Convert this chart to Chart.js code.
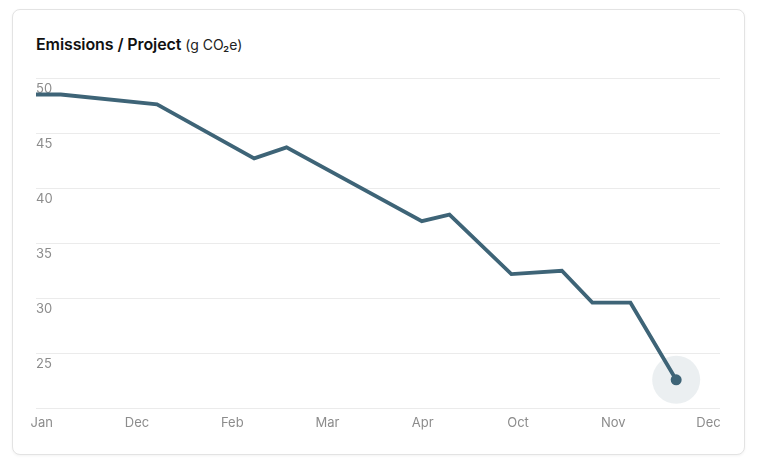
<!DOCTYPE html>
<html>
<head>
<meta charset="utf-8">
<script src="https://cdn.jsdelivr.net/npm/chart.js@4"></script>
<style>
  html, body { margin: 0; padding: 0; background: #fff; }
  body { width: 757px; height: 472px; position: relative; overflow: hidden; font-family: Inter, "Noto Sans", sans-serif; }
  .card {
    position: absolute; left: 12px; top: 9px; width: 731px; height: 444px;
    border: 1px solid #e3e3e3; border-radius: 8px; background: #fff;
    box-shadow: 0 1px 3px rgba(0,0,0,0.05);
  }
  .title {
    position: absolute; left: 36px; top: 34px; font-size: 16px; font-weight: 600; color: #111;
    letter-spacing: -0.1px; line-height: 20px;
  }
  .title span { font-size: 14px; font-weight: 400; color: #222; letter-spacing: 0; }
  .wrap { position: absolute; left: 0; top: 0; width: 757px; height: 472px; }
</style>
</head>
<body>
<div class="card"></div>
<div class="title">Emissions / Project <span>(g CO₂e)</span></div>
<div class="wrap"><canvas id="chart"></canvas></div>
<script>
// x positions are in "tick units": tick i sits at x = i
const TICK_LABELS = ['Jan', 'Dec', 'Feb', 'Mar', 'Apr', 'Oct', 'Nov', 'Dec'];
const X_VALUES = [-0.06, 0.20, 1.21, 2.23, 2.57, 3.99, 4.28, 4.93, 5.46, 5.78, 6.18, 6.66];
const EMISSIONS = [48.5, 48.5, 47.6, 42.7, 43.7, 37.0, 37.6, 32.2, 32.5, 29.6, 29.6, 22.6];
const Y_TICKS = [20, 25, 30, 35, 40, 45, 50];

const LINE_COLOR = '#3e6477';

const points = X_VALUES.map((x, i) => ({ x: x, y: EMISSIONS[i] }));
const last = points[points.length - 1];

new Chart(document.getElementById('chart'), {
  type: 'line',
  data: {
    datasets: [{
      data: points,
      borderColor: LINE_COLOR,
      borderWidth: 3.8,
      tension: 0,
      pointRadius: points.map((p, i) => i === points.length - 1 ? 5.5 : 0),
      pointBackgroundColor: LINE_COLOR,
      pointBorderWidth: 0,
      clip: false
    }, {
      data: [last],
      showLine: false,
      pointRadius: 24,
      pointBackgroundColor: 'rgba(62,100,119,0.10)',
      pointBorderWidth: 0,
      clip: false
    }]
  },
  options: {
    responsive: true,
    maintainAspectRatio: false,
    animation: false,
    layout: { padding: { left: 36, right: 37, top: 78, bottom: 34 } },
    plugins: { legend: { display: false }, tooltip: { enabled: false } },
    scales: {
      x: {
        type: 'linear',
        min: -0.06,
        max: 7.12,
        afterBuildTicks: (axis) => { axis.ticks = TICK_LABELS.map((l, i) => ({ value: i })); },
        grid: { display: false, drawTicks: false },
        border: { display: false },
        ticks: {
          autoSkip: false,
          maxRotation: 0,
          padding: 7,
          color: '#8c8c8c',
          font: { family: 'Inter', size: 13 },
          callback: (v, i) => TICK_LABELS[i]
        }
      },
      y: {
        min: 20,
        max: 50,
        afterBuildTicks: (axis) => { axis.ticks = Y_TICKS.map(v => ({ value: v })); },
        grid: { color: '#ebebeb', lineWidth: 1, drawTicks: false },
        border: { display: false },
        ticks: {
          mirror: true,
          padding: 0,
          labelOffset: 11,
          color: '#8c8c8c',
          font: { family: 'Inter', size: 13 },
          callback: (v) => v === 20 ? '' : v
        }
      }
    }
  }
});
</script>
</body>
</html>
